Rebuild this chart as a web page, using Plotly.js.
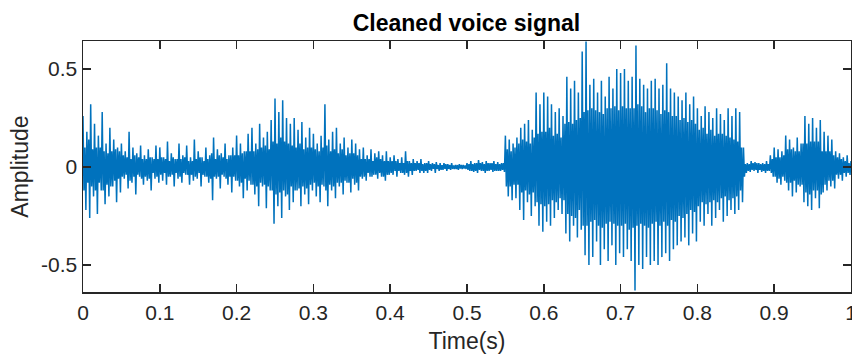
<!DOCTYPE html>
<html>
<head>
<meta charset="utf-8">
<script src="https://cdn.plot.ly/plotly-3.0.1.min.js"></script>
<style>html,body{margin:0;padding:0;background:#fff;}#chart{width:852px;height:356px;}</style>
</head>
<body>
<div id="chart"></div>
<script>
// Interval between the peak samples (seconds); a core sample sits halfway between two peaks
const sampleStep = 0.0025;

// Peak samples, one array per 0.1 s
const peak0 = [0.26,-0.22,0.18,-0.26,0.32,-0.15,0.22,-0.24,
  0.16,-0.12,0.28,-0.19,0.12,-0.15,0.2,-0.1,0.14,-0.18,0.1,-0.13,
  0.12,-0.06,0.08,-0.11,0.18,-0.08,0.1,-0.14,0.07,-0.05,0.11,-0.09,0.06,-0.07,0.09,-0.12,0.05,-0.06,0.11,-0.08];
const peak1 = [0.1,-0.07,0.05,-0.09,0.13,-0.05,0.07,-0.1,0.04,-0.06,0.12,-0.08,0.06,-0.04,0.11,-0.09,
  0.05,-0.07,0.14,-0.06,0.08,-0.1,0.05,-0.05,0.1,-0.08,0.06,-0.17,0.15,-0.06,0.09,-0.11,
  0.07,-0.05,0.12,-0.09,0.06,-0.13,0.1,-0.07];
const peak2 = [0.16,-0.1,0.12,-0.16,0.08,-0.12,0.17,-0.09,
  0.2,-0.14,0.12,-0.2,0.22,-0.1,0.15,-0.21,0.18,-0.12,0.24,-0.29,
  0.35,-0.2,0.28,-0.26,0.34,-0.15,0.25,-0.22,
  0.22,-0.18,0.25,-0.12,0.19,-0.2,0.23,-0.14,0.15,-0.19,0.2,-0.12];
const peak3 = [0.17,-0.15,0.12,-0.18,0.16,-0.1,0.32,-0.2,0.14,-0.12,0.18,-0.16,
  0.2,-0.1,0.12,-0.14,0.15,-0.08,0.1,-0.13,0.14,-0.09,0.12,-0.12,
  0.09,-0.06,0.1,-0.07,0.06,-0.05,0.09,-0.04,0.07,-0.06,0.08,-0.05,0.06,-0.07,0.08,-0.04];
const peak4 = [0.05,-0.04,0.06,-0.05,0.04,-0.03,0.05,-0.04,0.08,-0.05,
  0.03,-0.04,0.04,-0.02,0.03,-0.03,0.04,-0.03,0.02,-0.03,
  0.03,-0.02,0.02,-0.03,0.025,-0.02,0.02,-0.015,0.02,-0.02,0.015,-0.015,0.02,-0.01,0.01,-0.015,0.015,-0.01,0.01,-0.01];
const peak5 = [0.02,-0.02,0.03,-0.025,0.02,-0.03,0.035,-0.02,0.025,-0.03,0.03,-0.02,0.02,-0.025,0.03,-0.02,0.025,-0.02,0.02,-0.025,
  0.16,-0.15,0.14,-0.17,0.12,-0.16,0.15,
  -0.22,0.2,-0.27,0.22,-0.18,0.24,-0.25,0.19,-0.2,
  0.38,-0.3,0.32,-0.33];
const peak6 = [0.38,-0.28,0.36,-0.3,
  0.32,-0.26,0.28,-0.22,0.3,-0.24,0.26,
  -0.34,0.46,-0.38,0.4,-0.3,0.44,-0.36,0.38,-0.32,
  0.59,-0.45,0.64,-0.5,
  0.42,-0.46,0.45,-0.38,0.38,-0.5,0.44,-0.42,0.36,-0.48,0.46,-0.4,0.4,-0.5,0.5,-0.44];
const peak7 = [0.48,-0.46,0.5,-0.42,0.44,-0.48,0.46,
  -0.63,
  0.62,-0.5,0.45,-0.52,0.42,-0.46,0.4,-0.5,0.44,
  -0.48,0.45,-0.5,0.4,-0.46,0.42,-0.44,0.53,-0.48,0.4,-0.42,0.38,
  -0.4,0.36,-0.38,0.34,-0.36,0.38,-0.4,0.32,-0.34,0.36,-0.38];
const peak8 = [0.3,-0.28,0.26,-0.3,0.31,-0.24,0.28,-0.3,0.25,-0.26,0.3,-0.22,0.27,-0.28,0.24,-0.25,0.3,-0.22,0.26,-0.24,
  0.3,-0.22,0.28,-0.18,0.1,
  -0.03,0.02,-0.025,0.03,-0.02,0.025,-0.03,0.02,-0.025,0.02,-0.03,0.03,-0.02,
  0.06,-0.05];
const peak9 = [0.1,-0.08,0.09,-0.09,0.08,-0.07,
  0.16,-0.12,0.14,-0.15,0.1,-0.13,0.15,-0.1,0.12,
  -0.18,0.26,-0.2,0.22,-0.22,0.25,-0.16,0.2,-0.21,0.24,
  -0.13,0.18,-0.12,0.16,-0.1,0.14,-0.11,
  0.08,-0.06,0.07,-0.07,0.05,-0.05,0.06,-0.04,
  0.03];

const core0 = [-0.12,0.1,-0.08,0.14,-0.1,0.09,-0.12,0.1,
  -0.08,0.1,-0.12,0.08,-0.09,0.07,-0.1,0.08,-0.07,0.09,-0.06,0.08,
  -0.05,0.06,-0.04,0.05,-0.07,0.04,-0.05,0.06,-0.04,0.05,-0.06,0.04,-0.05,0.04,-0.06,0.05,-0.03,0.04,-0.05,0.04];
const core1 = [-0.04,0.05,-0.03,0.04,-0.05,0.03,-0.04,0.05,-0.03,0.04,-0.05,0.04,-0.03,0.05,-0.04,0.03,
  -0.04,0.03,-0.05,0.04,-0.03,0.05,-0.04,0.03,-0.05,0.04,-0.06,0.07,-0.05,0.04,-0.05,0.06,
  -0.04,0.05,-0.06,0.04,-0.05,0.06,-0.05,0.06];
const core2 = [-0.07,0.06,-0.08,0.07,-0.06,0.08,-0.07,0.08,
  -0.09,0.08,-0.1,0.09,-0.08,0.1,-0.09,0.11,-0.1,0.09,-0.12,0.13,
  -0.14,0.12,-0.13,0.15,-0.12,0.13,-0.14,0.12,
  -0.1,0.11,-0.12,0.1,-0.11,0.12,-0.1,0.09,-0.11,0.1,-0.09,0.1];
const core3 = [-0.08,0.09,-0.1,0.08,-0.09,0.1,-0.12,0.11,-0.09,0.08,-0.1,0.09,
  -0.08,0.07,-0.08,0.09,-0.07,0.06,-0.08,0.07,-0.06,0.07,-0.08,0.06,
  -0.05,0.04,-0.05,0.04,-0.03,0.04,-0.05,0.03,-0.04,0.05,-0.03,0.04,-0.05,0.03,-0.04,0.03];
const core4 = [-0.03,0.03,-0.02,0.03,-0.02,0.02,-0.03,0.02,-0.03,0.03,
  -0.02,0.02,-0.02,0.02,-0.015,0.02,-0.02,0.015,-0.02,0.02,
  -0.015,0.015,-0.01,0.015,-0.01,0.01,-0.015,0.01,-0.01,0.015,-0.01,0.01,-0.01,0.008,-0.01,0.01,-0.008,0.01,-0.008,0.008];
const core5 = [-0.015,0.015,-0.02,0.015,-0.02,0.02,-0.015,0.02,-0.02,0.015,-0.02,0.02,-0.015,0.02,-0.02,0.015,-0.02,0.015,-0.015,0.02,
  -0.1,0.09,-0.1,0.08,-0.09,0.1,-0.09,
  0.12,-0.13,0.14,-0.12,0.13,-0.14,0.12,-0.13,0.15,
  -0.18,0.17,-0.19,0.18];
const core6 = [-0.2,0.18,-0.19,0.2,
  -0.17,0.16,-0.18,0.17,-0.16,0.15,-0.17,
  0.22,-0.24,0.23,-0.25,0.22,-0.26,0.24,-0.22,0.25,
  -0.3,0.28,-0.3,0.29,
  -0.28,0.3,-0.27,0.29,-0.3,0.28,-0.31,0.27,-0.29,0.3,-0.28,0.3,-0.29,0.31,-0.3,0.29];
const core7 = [-0.3,0.31,-0.29,0.3,-0.32,0.3,-0.31,
  0.3,
  -0.3,0.32,-0.29,0.31,-0.3,0.28,-0.31,0.3,-0.29,
  0.3,-0.28,0.29,-0.3,0.27,-0.28,0.29,-0.3,0.28,-0.27,0.26,-0.28,
  0.26,-0.25,0.24,-0.26,0.25,-0.24,0.23,-0.22,0.24,-0.23,0.22];
const core8 = [-0.2,0.19,-0.18,0.2,-0.19,0.17,-0.18,0.19,-0.17,0.16,-0.18,0.17,-0.16,0.17,-0.15,0.16,-0.17,0.15,-0.16,0.14,
  -0.15,0.13,-0.12,0.1,-0.05,
  0.015,-0.02,0.015,-0.015,0.02,-0.015,0.02,-0.015,0.015,-0.02,0.015,-0.02,0.015,
  -0.03,0.04];
const core9 = [-0.05,0.05,-0.06,0.05,-0.05,0.06,
  -0.08,0.09,-0.08,0.09,-0.07,0.08,-0.09,0.08,-0.09,
  0.12,-0.13,0.12,-0.14,0.13,-0.12,0.13,-0.12,0.13,-0.14,
  0.08,-0.09,0.08,-0.07,0.08,-0.07,0.06,
  -0.04,0.05,-0.04,0.04,-0.03,0.03,-0.03,0.02];

const xTickVals = [0,0.1,0.2,0.3,0.4,0.5,0.6,0.7,0.8,0.9,1];
const xTickText = ['0','0.1','0.2','0.3','0.4','0.5','0.6','0.7','0.8','0.9','1'];
const yTickVals = [-0.5,0,0.5];
const yTickText = ['-0.5','0','0.5'];

const peaks = [].concat(peak0,peak1,peak2,peak3,peak4,peak5,peak6,peak7,peak8,peak9);
const cores = [].concat(core0,core1,core2,core3,core4,core5,core6,core7,core8,core9);
// Each step holds one peak and one core sample; the order follows the peak sign so the trace swings up/down at every sample
const time = [], amplitude = [];
peaks.forEach((v, i) => {
  const hasCore = i < cores.length;
  if (i % 2 === 0 || !hasCore) {
    time.push(i * sampleStep); amplitude.push(v);
    if (hasCore) { time.push((i + 0.5) * sampleStep); amplitude.push(cores[i]); }
  } else {
    time.push(i * sampleStep); amplitude.push(cores[i]);
    time.push((i + 0.5) * sampleStep); amplitude.push(v);
  }
});

const axisColor = '#262626';
const font = 'Liberation Sans, Arial, Helvetica, sans-serif';

const trace = {
  x: time, y: amplitude, type: 'scatter', mode: 'lines',
  line: {color: '#0072BD', width: 1.5, simplify: false}, hoverinfo: 'skip'
};

const layout = {
  width: 852, height: 356,
  margin: {l: 83, r: 1, t: 41, b: 64},
  paper_bgcolor: '#fff', plot_bgcolor: '#fff',
  showlegend: false,
  title: {text: '<b>Cleaned voice signal</b>', x: 0.5475, xanchor: 'center', y: 0.935, yanchor: 'middle',
    font: {family: font, size: 23, color: '#000'}},
  xaxis: {
    range: [0, 1], tickvals: xTickVals, ticktext: xTickText,
    ticks: 'inside', ticklen: 8, tickwidth: 1.5, tickcolor: axisColor,
    showline: true, linecolor: axisColor, linewidth: 1.5, mirror: 'ticks',
    showgrid: false, zeroline: false, ticklabeloverflow: 'allow', ticklabelstandoff: 1,
    tickfont: {family: font, size: 21, color: axisColor},
    title: {text: 'Time(s)', font: {family: font, size: 23, color: axisColor}, standoff: 10}
  },
  yaxis: {
    range: [-0.638, 0.643], tickvals: yTickVals, ticktext: yTickText,
    ticks: 'inside', ticklen: 8, tickwidth: 1.5, tickcolor: axisColor,
    showline: true, linecolor: axisColor, linewidth: 1.5, mirror: 'ticks',
    showgrid: false, zeroline: false,
    tickfont: {family: font, size: 21, color: axisColor},
    title: {text: 'Amplitude', font: {family: font, size: 23, color: axisColor}, standoff: 6}
  }
};

Plotly.newPlot('chart', [trace], layout, {displayModeBar: false, staticPlot: true});
</script>
</body>
</html>
